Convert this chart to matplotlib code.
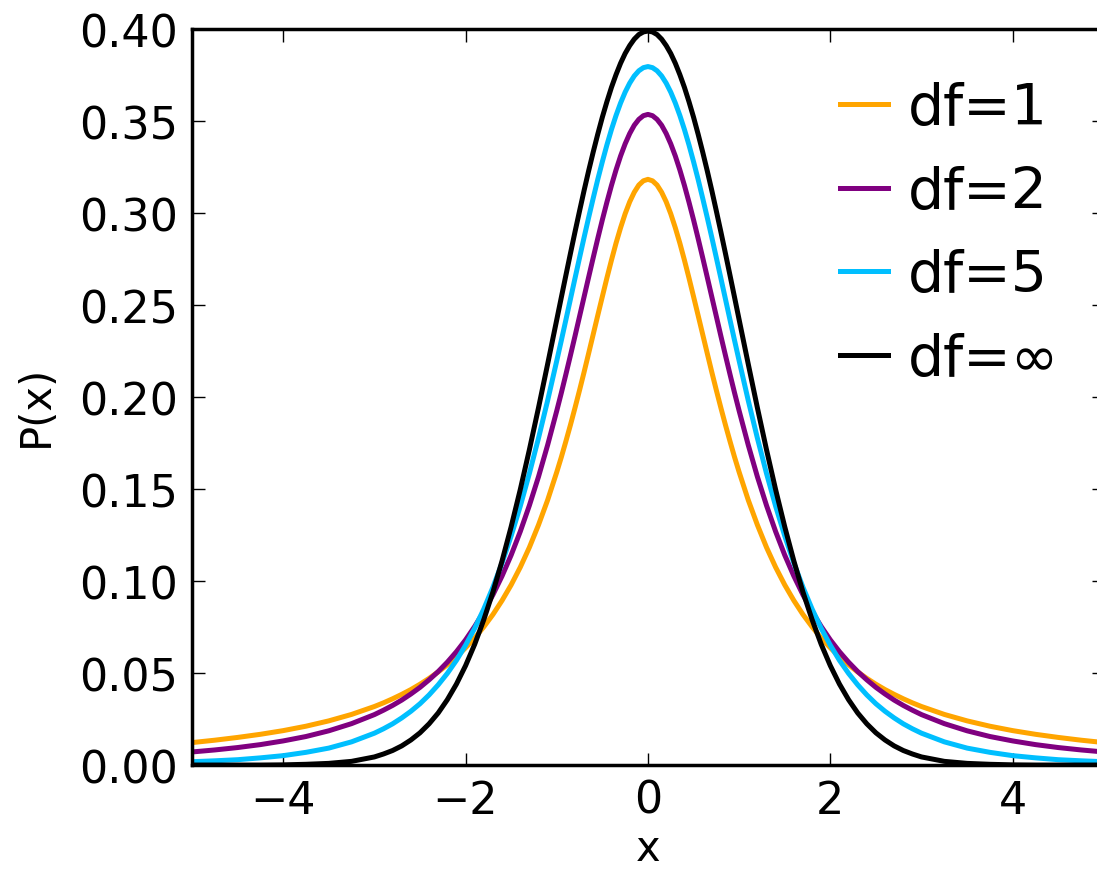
import matplotlib
matplotlib.use("Agg")
import matplotlib.pyplot as plt
from matplotlib.ticker import FormatStrFormatter

# x positions (0.25 steps in the tails, 0.1 on the flanks, 0.05 round the peak)
# and the P(x) values for each curve
x = [-5.0, -4.75, -4.5, -4.25, -4.0, -3.75, -3.5, -3.25,
     -3.0, -2.9, -2.8, -2.7, -2.6, -2.5, -2.4, -2.3, -2.2, -2.1,
     -2.0, -1.9, -1.8, -1.7, -1.6, -1.5, -1.4, -1.3, -1.2, -1.1,
     -1.0, -0.95, -0.9, -0.85, -0.8, -0.75, -0.7, -0.65, -0.6, -0.55,
     -0.5, -0.45, -0.4, -0.35, -0.3, -0.25, -0.2, -0.15, -0.1, -0.05,
     0.0,
     0.05, 0.1, 0.15, 0.2, 0.25, 0.3, 0.35, 0.4, 0.45, 0.5,
     0.55, 0.6, 0.65, 0.7, 0.75, 0.8, 0.85, 0.9, 0.95, 1.0,
     1.1, 1.2, 1.3, 1.4, 1.5, 1.6, 1.7, 1.8, 1.9, 2.0,
     2.1, 2.2, 2.3, 2.4, 2.5, 2.6, 2.7, 2.8, 2.9, 3.0,
     3.25, 3.5, 3.75, 4.0, 4.25, 4.5, 4.75, 5.0]

df1 = [0.0122, 0.0135, 0.0150, 0.0167, 0.0187, 0.0211, 0.0240, 0.0275,
       0.0318, 0.0338, 0.0360, 0.0384, 0.0410, 0.0439, 0.0471, 0.0506, 0.0545, 0.0588,
       0.0637, 0.0690, 0.0751, 0.0818, 0.0894, 0.0979, 0.1075, 0.1183, 0.1305, 0.1440,
       0.1592, 0.1673, 0.1759, 0.1848, 0.1941, 0.2037, 0.2136, 0.2238, 0.2341, 0.2444,
       0.2546, 0.2647, 0.2744, 0.2836, 0.2920, 0.2996, 0.3061, 0.3113, 0.3152, 0.3175,
       0.3183,
       0.3175, 0.3152, 0.3113, 0.3061, 0.2996, 0.2920, 0.2836, 0.2744, 0.2647, 0.2546,
       0.2444, 0.2341, 0.2238, 0.2136, 0.2037, 0.1941, 0.1848, 0.1759, 0.1673, 0.1592,
       0.1440, 0.1305, 0.1183, 0.1075, 0.0979, 0.0894, 0.0818, 0.0751, 0.0690, 0.0637,
       0.0588, 0.0545, 0.0506, 0.0471, 0.0439, 0.0410, 0.0384, 0.0360, 0.0338, 0.0318,
       0.0275, 0.0240, 0.0211, 0.0187, 0.0167, 0.0150, 0.0135, 0.0122]

df2 = [0.0071, 0.0082, 0.0095, 0.0111, 0.0131, 0.0155, 0.0186, 0.0225,
       0.0274, 0.0298, 0.0324, 0.0353, 0.0386, 0.0422, 0.0463, 0.0508, 0.0559, 0.0616,
       0.0680, 0.0753, 0.0834, 0.0925, 0.1027, 0.1141, 0.1269, 0.1411, 0.1567, 0.1739,
       0.1925, 0.2022, 0.2123, 0.2226, 0.2331, 0.2438, 0.2545, 0.2652, 0.2758, 0.2862,
       0.2963, 0.3059, 0.3150, 0.3234, 0.3310, 0.3376, 0.3432, 0.3477, 0.3509, 0.3529,
       0.3536,
       0.3529, 0.3509, 0.3477, 0.3432, 0.3376, 0.3310, 0.3234, 0.3150, 0.3059, 0.2963,
       0.2862, 0.2758, 0.2652, 0.2545, 0.2438, 0.2331, 0.2226, 0.2123, 0.2022, 0.1925,
       0.1739, 0.1567, 0.1411, 0.1269, 0.1141, 0.1027, 0.0925, 0.0834, 0.0753, 0.0680,
       0.0616, 0.0559, 0.0508, 0.0463, 0.0422, 0.0386, 0.0353, 0.0324, 0.0298, 0.0274,
       0.0225, 0.0186, 0.0155, 0.0131, 0.0111, 0.0095, 0.0082, 0.0071]

df5 = [0.0018, 0.0023, 0.0029, 0.0039, 0.0051, 0.0069, 0.0092, 0.0126,
       0.0173, 0.0197, 0.0224, 0.0256, 0.0292, 0.0333, 0.0381, 0.0436, 0.0498, 0.0569,
       0.0651, 0.0743, 0.0848, 0.0966, 0.1098, 0.1245, 0.1407, 0.1585, 0.1777, 0.1981,
       0.2197, 0.2307, 0.2419, 0.2532, 0.2645, 0.2757, 0.2868, 0.2976, 0.3081, 0.3183,
       0.3279, 0.3370, 0.3454, 0.3530, 0.3598, 0.3657, 0.3706, 0.3745, 0.3773, 0.3790,
       0.3796,
       0.3790, 0.3773, 0.3745, 0.3706, 0.3657, 0.3598, 0.3530, 0.3454, 0.3370, 0.3279,
       0.3183, 0.3081, 0.2976, 0.2868, 0.2757, 0.2645, 0.2532, 0.2419, 0.2307, 0.2197,
       0.1981, 0.1777, 0.1585, 0.1407, 0.1245, 0.1098, 0.0966, 0.0848, 0.0743, 0.0651,
       0.0569, 0.0498, 0.0436, 0.0381, 0.0333, 0.0292, 0.0256, 0.0224, 0.0197, 0.0173,
       0.0126, 0.0092, 0.0069, 0.0051, 0.0039, 0.0029, 0.0023, 0.0018]

dfinf = [0.0000, 0.0000, 0.0000, 0.0000, 0.0001, 0.0004, 0.0009, 0.0020,
         0.0044, 0.0060, 0.0079, 0.0104, 0.0136, 0.0175, 0.0224, 0.0283, 0.0355, 0.0440,
         0.0540, 0.0656, 0.0790, 0.0940, 0.1109, 0.1295, 0.1497, 0.1714, 0.1942, 0.2179,
         0.2420, 0.2541, 0.2661, 0.2780, 0.2897, 0.3011, 0.3123, 0.3230, 0.3332, 0.3429,
         0.3521, 0.3605, 0.3683, 0.3752, 0.3814, 0.3867, 0.3910, 0.3945, 0.3970, 0.3984,
         0.3989,
         0.3984, 0.3970, 0.3945, 0.3910, 0.3867, 0.3814, 0.3752, 0.3683, 0.3605, 0.3521,
         0.3429, 0.3332, 0.3230, 0.3123, 0.3011, 0.2897, 0.2780, 0.2661, 0.2541, 0.2420,
         0.2179, 0.1942, 0.1714, 0.1497, 0.1295, 0.1109, 0.0940, 0.0790, 0.0656, 0.0540,
         0.0440, 0.0355, 0.0283, 0.0224, 0.0175, 0.0136, 0.0104, 0.0079, 0.0060, 0.0044,
         0.0020, 0.0009, 0.0004, 0.0001, 0.0000, 0.0000, 0.0000, 0.0000]

labels = ["df=1", "df=2", "df=5", "df=\u221e"]
colors = ["orange", "purple", "#00bfff", "black"]

fig = plt.figure(figsize=(10.97, 8.7), dpi=100)
ax = fig.add_axes([0.175, 0.1195, 0.8313, 0.846])

for ys, lab, c in zip([df1, df2, df5, dfinf], labels, colors):
    ax.plot(x, ys, color=c, lw=3.6, label=lab, solid_joinstyle="round")

ax.set_xlim(-5, 5)
ax.set_ylim(0, 0.40)
ax.set_xticks([-4, -2, 0, 2, 4])
ax.set_yticks([0.0, 0.05, 0.10, 0.15, 0.20, 0.25, 0.30, 0.35, 0.40])
ax.yaxis.set_major_formatter(FormatStrFormatter("%.2f"))
ax.tick_params(direction="in", length=9, width=1, top=True, right=True,
               labelsize=32, pad=10)
for sp in ax.spines.values():
    sp.set_linewidth(2.5)

ax.set_xlabel("x", fontsize=30, labelpad=4)
ax.set_ylabel("P(x)", fontsize=30, labelpad=8)
ax.yaxis.set_label_coords(-0.148, 0.49)

ax.legend(loc="upper left", bbox_to_anchor=(0.7105, 0.929), frameon=False,
          fontsize=41, handlelength=0.85, handletextpad=0.35, labelspacing=0.5,
          borderpad=0, borderaxespad=0)

fig.savefig("out.png", dpi=100)
